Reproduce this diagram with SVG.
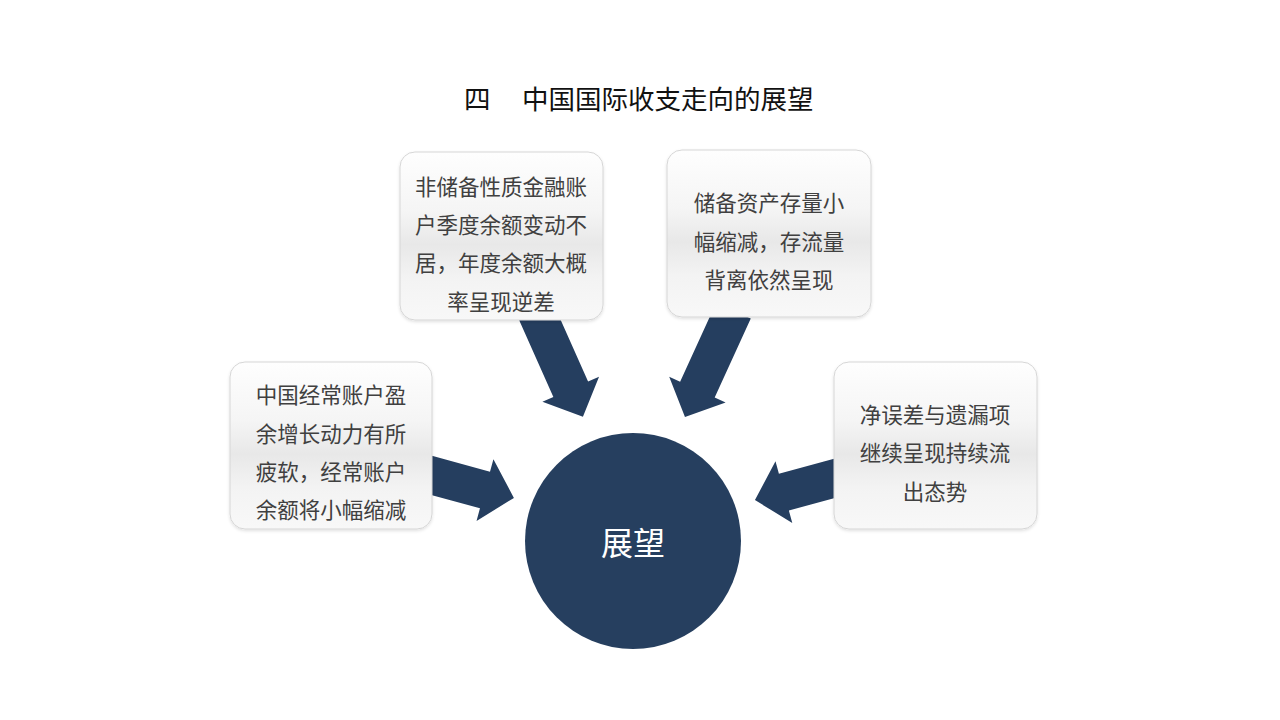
<svg xmlns="http://www.w3.org/2000/svg" width="1280" height="720" viewBox="0 0 1280 720">
<style>
.box{fill:url(#bg);stroke:#d6d6d6;stroke-width:1;filter:url(#sh)}
.t{font-family:"Microsoft YaHei","Noto Sans CJK SC",sans-serif;font-size:21.5px;fill:#404040;text-anchor:middle;dominant-baseline:central}
.title{font-family:"Microsoft YaHei","Noto Sans CJK SC",sans-serif;font-size:26.5px;fill:#111;dominant-baseline:central}
.arr{fill:#253e5f}
</style>
<defs>
<linearGradient id="bg" x1="0" y1="0" x2="0" y2="1">
<stop offset="0" stop-color="#fefefe"/>
<stop offset="0.35" stop-color="#f5f5f5"/>
<stop offset="0.55" stop-color="#e8e8e8"/>
<stop offset="0.75" stop-color="#f3f3f3"/>
<stop offset="1" stop-color="#f8f8f8"/>
</linearGradient>
<filter id="sh" x="-10%" y="-10%" width="120%" height="125%">
<feDropShadow dx="0" dy="1.5" stdDeviation="1.5" flood-color="#000" flood-opacity="0.12"/>
</filter>
</defs>
<rect width="1280" height="720" fill="#fff"/>
<g id="title">
<text class="title" x="464" y="97">四</text>
<text class="title" x="522" y="97">中国国际收支走向的展望</text>
</g>
<g id="connectors">
<polygon class="arr" transform="translate(539,318) rotate(66)" points="-6,-19 78,-19 78,-31 108,0 78,31 78,19 -6,19"/>
<polygon class="arr" transform="translate(731,316) rotate(114.5)" points="-6,-19 81,-19 81,-31 111,0 81,31 81,19 -6,19"/>
<polygon class="arr" transform="translate(430,475) rotate(15.3)" points="-6,-19 57,-19 57,-32 87,0 57,32 57,19 -6,19"/>
<polygon class="arr" transform="translate(836,478) rotate(164.8)" points="-6,-19 54,-19 54,-32 84,0 54,32 54,19 -6,19"/>
</g>
<g id="node-top-left">
<rect class="box" x="400" y="152" width="203" height="168" rx="15"/>
<text class="t" x="501" y="185">非储备性质金融账</text>
<text class="t" x="501" y="223">户季度余额变动不</text>
<text class="t" x="501" y="261">居，年度余额大概</text>
<text class="t" x="501" y="300">率呈现逆差</text>
</g>
<g id="node-top-right">
<rect class="box" x="667" y="150" width="204" height="167" rx="15"/>
<text class="t" x="769" y="201">储备资产存量小</text>
<text class="t" x="769" y="240">幅缩减，存流量</text>
<text class="t" x="769" y="278">背离依然呈现</text>
</g>
<g id="node-left">
<rect class="box" x="230" y="362" width="202" height="167" rx="15"/>
<text class="t" x="331" y="393">中国经常账户盈</text>
<text class="t" x="331" y="432">余增长动力有所</text>
<text class="t" x="331" y="470">疲软，经常账户</text>
<text class="t" x="331" y="508">余额将小幅缩减</text>
</g>
<g id="node-right">
<rect class="box" x="834" y="362" width="203" height="167" rx="15"/>
<text class="t" x="935" y="413">净误差与遗漏项</text>
<text class="t" x="935" y="451">继续呈现持续流</text>
<text class="t" x="935" y="490">出态势</text>
</g>
<g id="node-center">
<circle cx="633" cy="541" r="108" fill="#263f5f"/>
<text x="633" y="541" font-family="Microsoft YaHei,Noto Sans CJK SC,sans-serif" font-size="32" fill="#fff" text-anchor="middle" dominant-baseline="central">展望</text>
</g>
</svg>
